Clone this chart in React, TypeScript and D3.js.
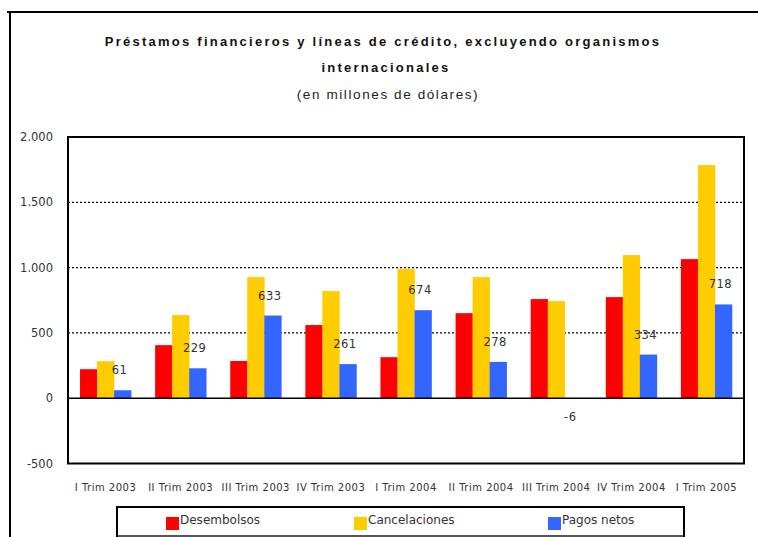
import React from "react";
import * as d3 from "d3";

const categories = ["I Trim 2003", "II Trim 2003", "III Trim 2003", "IV Trim 2003", "I Trim 2004", "II Trim 2004", "III Trim 2004", "IV Trim 2004", "I Trim 2005"];
const desembolsos = [222, 406, 285, 560, 314, 651, 759, 774, 1065];
const cancelaciones = [283, 636, 927, 820, 989, 927, 743, 1096, 1785];
const pagosNetos = [61, 229, 633, 261, 674, 278, -6, 334, 718];
const yTicks = [-500, 0, 500, 1000, 1500, 2000];
const seriesNames = ["Desembolsos", "Cancelaciones", "Pagos netos"];
const colors = ["#FF0000", "#FFCC00", "#3366FF"];

const fmt = (v: number) => {
  const s = Math.abs(v).toString().replace(/\B(?=(\d{3})+(?!\d))/g, ".");
  return (v < 0 ? "-" : "") + s;
};

export default function App() {
  const W = 758, H = 537;
  const left = 68, right = 744, top = 137, bottom = 463.5;
  const y = d3.scaleLinear().domain([-500, 2000]).range([bottom, top]);
  const x = d3.scaleBand<string>().domain(categories).range([left, right]).paddingInner(0.32).paddingOuter(0.16);
  const inner = d3.scaleBand<number>().domain([0, 1, 2]).range([0, x.bandwidth()]);
  const series = [desembolsos, cancelaciones, pagosNetos];
  const font = "'DejaVu Sans', Verdana, sans-serif";
  const tfont = "'Liberation Sans', Arial, sans-serif";
  return (
    <svg width={W} height={H} style={{ position: "absolute", left: 0, top: 0 }}>
      <rect x={0} y={0} width={W} height={H} fill="#fff" />
      {/* outer frame */}
      <line x1={7} x2={W} y1={12} y2={12} stroke="#000" strokeWidth={2} />
      <line x1={10} x2={10} y1={12} y2={H} stroke="#000" strokeWidth={2} />
      {/* title */}
      <text x={383} y={46} textAnchor="middle" fontFamily={tfont} fontWeight="bold" fontSize={13} letterSpacing={2.25} fill="#111">Préstamos financieros y líneas de crédito, excluyendo organismos</text>
      <text x={386} y={72} textAnchor="middle" fontFamily={tfont} fontWeight="bold" fontSize={13} letterSpacing={2.25} fill="#111">internacionales</text>
      <text x={388} y={99} textAnchor="middle" fontFamily={tfont} fontSize={13.5} letterSpacing={1.6} fill="#222">(en millones de dólares)</text>
      {/* grid */}
      {yTicks.filter(t => t > 0 && t < 2000).map(t => (
        <line key={t} x1={left} x2={right} y1={y(t)} y2={y(t)} stroke="#000" strokeWidth={1.3} strokeDasharray="2,2" />
      ))}
      {/* y tick labels */}
      {yTicks.map(t => (
        <text key={t} x={53} y={y(t)} dy="0.35em" textAnchor="end" fontFamily={font} fontSize={11.5} fill="#333">{fmt(t)}</text>
      ))}
      {/* bars */}
      {categories.map((c, i) => (
        <g key={c}>
          {series.map((s, k) => {
            const v = s[i];
            const y0 = y(Math.max(0, v));
            const y1 = y(Math.min(0, v));
            return <rect key={k} x={(x(c) as number) + inner(k)!} y={y0} width={inner.bandwidth() + 0.3} height={y1 - y0} fill={colors[k]} />;
          })}
          {(() => {
            const v = pagosNetos[i];
            const cx = (x(c) as number) + inner(2)! + inner.bandwidth() / 2 - 3;
            const ly = v >= 0 ? y(v) - 20 : y(v) + 18;
            return <text x={cx} y={ly} dy="0.35em" textAnchor="middle" fontFamily={font} fontSize={11.5} fill="#333" letterSpacing={0.5}>{fmt(v)}</text>;
          })()}
          <text x={(x(c) as number) + x.bandwidth() / 2} y={487} dy="0.35em" textAnchor="middle" fontFamily={font} fontSize={10} fill="#333" letterSpacing={0.5}>{c}</text>
        </g>
      ))}
      {/* zero line */}
      <line x1={left} x2={right} y1={y(0)} y2={y(0)} stroke="#000" strokeWidth={1.5} />
      {/* plot frame */}
      <rect x={left} y={top} width={right - left} height={bottom - top} fill="none" stroke="#000" strokeWidth={2} />
      {/* legend */}
      <rect x={117} y={507} width={567} height={29} fill="#fff" stroke="#000" strokeWidth={2} />
      <line x1={118} x2={683} y1={536} y2={536} stroke="#aaa" strokeWidth={1} />
      {seriesNames.map((n, k) => {
        const lx = [166, 354, 548][k];
        return (
          <g key={n}>
            <rect x={lx} y={517} width={13} height={13} fill={colors[k]} />
            <text x={lx + 14} y={520} dy="0.35em" fontFamily={font} fontSize={12} fill="#333">{n}</text>
          </g>
        );
      })}
    </svg>
  );
}
